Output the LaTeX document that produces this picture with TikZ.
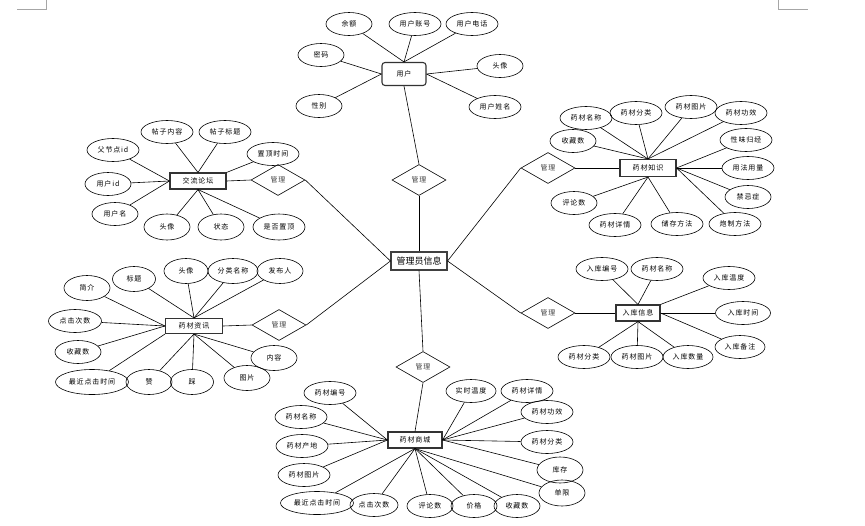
\documentclass[tikz,border=0pt]{standalone}
\usepackage{fontspec}
\newfontfamily\cjk[LetterSpace=12]{Noto Sans CJK SC}
\newfontfamily\cjkmain{Noto Sans CJK SC}
\usetikzlibrary{shapes.geometric}

\begin{document}
\begin{tikzpicture}[
  x=1pt,y=-1pt,
  attr/.style={draw,ellipse,line width=0.6pt,inner sep=0pt,minimum width=52pt,minimum height=23pt,font=\cjk\fontsize{7}{8}\selectfont},
  attrs/.style={attr,minimum width=46pt},
  attrl/.style={attr,minimum width=73pt},
  entity/.style={draw=black!80,line width=1.1pt,inner sep=0pt,minimum width=56pt,minimum height=16pt,font=\cjk\fontsize{7}{8}\selectfont},
  rel/.style={draw,diamond,line width=0.6pt,inner sep=0pt,minimum width=54pt,minimum height=31pt,font=\cjk\fontsize{7}{8}\selectfont,text=black!75},
  conn/.style={line width=0.6pt}
]
\useasboundingbox (0,0) rectangle (865,525);
% page corner marks
\draw[black!35,line width=0.6pt] (17,9) -- (46,9) -- (46,0);
\draw[black!35,line width=0.6pt] (778,0) -- (778,9) -- (808,9);

% centre
\node[draw=black!75,line width=1.1pt,inner sep=0pt,minimum width=56pt,minimum height=18pt,font=\cjkmain\fontsize{9}{10}\selectfont] (gly) at (419,261) {管理员信息};
\node[rel] (gl1) at (419,180) {管理};
\node[rel] (gl2) at (278,180) {管理};
\node[rel] (gl3) at (548,168) {管理};
\node[rel] (gl4) at (279,325) {管理};
\node[rel] (gl5) at (423,367) {管理};
\node[rel] (gl6) at (548,313) {管理};

% 用户
\node[entity,rounded corners=3pt,minimum width=44pt,minimum height=23pt] (yonghu) at (404,74) {用户};
\node[attrs] (yue) at (349,24) {余额};
\node[attr] (yhzh) at (415,24) {用户账号};
\node[attr] (yhdh) at (472,24) {用户电话};
\node[attrs] (mima) at (321,55) {密码};
\node[attrs] (touxiang) at (500,66) {头像};
\node[attrs] (xingbie) at (319,106) {性别};
\node[attr] (yhxm) at (495,107) {用户姓名};
\draw[conn] (yue) -- (yonghu.north);
\draw[conn] (yhzh) -- (yonghu.north);
\draw[conn] (yhdh) -- (yonghu.north);
\draw[conn] (mima) -- (yonghu.west);
\draw[conn] (xingbie) -- (yonghu.west);
\draw[conn] (touxiang) -- (yonghu.east);
\draw[conn] (yhxm) -- (yonghu.east);
\draw[conn] (yonghu.south) -- (gl1.north);
\draw[conn] (gl1.south) -- (gly.north);

% 交流论坛
\node[entity] (jlt) at (198,181) {交流论坛};
\node[attr] (tznr) at (167,132) {帖子内容};
\node[attr] (tzbt) at (225,132) {帖子标题};
\node[attr] (zdsj) at (273,154) {置顶时间};
\node[attr] (fjd) at (113,150) {父节点id};
\node[attrs] (yhid) at (108,184) {用户id};
\node[attrs] (yhm) at (115,214) {用户名};
\node[attrs,minimum height=26pt] (tx1) at (167,227) {头像};
\node[attrs,minimum height=26pt] (zhuangtai) at (221,227) {状态};
\node[attr,minimum height=26pt] (sfzd) at (279,227) {是否置顶};
\draw[conn] (tznr) -- (jlt.north);
\draw[conn] (tzbt) -- (jlt.north);
\draw[conn] (zdsj) -- (jlt.north east);
\draw[conn] (fjd) -- (jlt.west);
\draw[conn] (yhid) -- (jlt.west);
\draw[conn] (yhm) -- (jlt.west);
\draw[conn] (tx1) -- (jlt.south);
\draw[conn] (zhuangtai) -- (jlt.south);
\draw[conn] (sfzd) -- (jlt.south);
\draw[conn] (jlt.east) -- (gl2.west);
\draw[conn] (gl2.east) -- (gly.west);

% 药材知识
\node[entity,minimum height=17pt] (zs) at (648,168) {药材知识};
\node[attr] (ymc1) at (586,118) {药材名称};
\node[attr] (yfl1) at (636,113) {药材分类};
\node[attr] (ytp1) at (691,107) {药材图片};
\node[attr] (ygx1) at (741,113) {药材功效};
\node[attrs] (scs1) at (573,141) {收藏数};
\node[attr] (xwgj) at (746,140) {性味归经};
\node[attr] (yfyl) at (748,168) {用法用量};
\node[attrs] (jjz) at (748,197) {禁忌症};
\node[attrs] (pls1) at (574,203) {评论数};
\node[attr] (yxq1) at (615,225) {药材详情};
\node[attr] (ccff) at (677,224) {储存方法};
\node[attr] (pzff) at (735,224) {炮制方法};
\draw[conn] (ymc1) -- (zs.north);
\draw[conn] (yfl1) -- (zs.north);
\draw[conn] (ytp1) -- (zs.north);
\draw[conn] (ygx1) -- (zs.north);
\draw[conn] (scs1) -- (zs.north);
\draw[conn] (xwgj) -- (zs.east);
\draw[conn] (yfyl) -- (zs.east);
\draw[conn] (jjz) -- (zs.east);
\draw[conn] (pzff) -- (zs.east);
\draw[conn] (pls1) -- (zs.south);
\draw[conn] (yxq1) -- (zs.south);
\draw[conn] (ccff) -- (zs.south);
\draw[conn] (gl3.east) -- (zs.west);
\draw[conn] (gl3.west) -- (gly.east);

% 药材资讯
\node[entity,minimum width=57pt,minimum height=15pt] (zx) at (194,326) {药材资讯};
\node[attrs,minimum height=25pt] (jianjie) at (87,288) {简介};
\node[attrs,minimum width=43pt,minimum height=25pt] (biaoti) at (134,279) {标题};
\node[attrs,minimum width=44pt,minimum height=25pt] (tx2) at (186,271) {头像};
\node[attr,minimum width=50pt,minimum height=25pt] (flmc) at (233,271) {分类名称};
\node[attrs,minimum height=25pt] (fbr) at (280,271) {发布人};
\node[attr,minimum width=53pt] (djcs1) at (75,321) {点击次数};
\node[attrs] (scs2) at (78,352) {收藏数};
\node[attrl,minimum height=25pt] (zjdj1) at (92,382) {最近点击时间};
\node[attrs,minimum height=25pt] (zan) at (149,382) {赞};
\node[attrs,minimum width=43pt,minimum height=25pt] (cai) at (192,382) {踩};
\node[attrs,minimum height=25pt] (tupian) at (247,378) {图片};
\node[attrs,minimum height=25pt] (neirong) at (274,358) {内容};
\draw[conn] (jianjie) -- (zx.west);
\draw[conn] (djcs1) -- (zx.west);
\draw[conn] (scs2) -- (zx.west);
\draw[conn] (biaoti) -- (zx.north);
\draw[conn] (tx2) -- (zx.north);
\draw[conn] (flmc) -- (zx.north);
\draw[conn] (fbr) -- (zx.north);
\draw[conn] (zjdj1) -- (zx.south west);
\draw[conn] (zan) -- (zx.south);
\draw[conn] (cai) -- (zx.south);
\draw[conn] (tupian) -- (zx.south);
\draw[conn] (neirong) -- (zx.south);
\draw[conn] (gl4.west) -- (zx.east);
\draw[conn] (gl4.east) -- (gly.west);

% 入库信息
\node[entity,minimum width=44pt] (rk) at (638,313) {入库信息};
\node[attr] (rkbh) at (602,269) {入库编号};
\node[attr] (ymc2) at (657,269) {药材名称};
\node[attr] (rkwd) at (729,278) {入库温度};
\node[attr,minimum width=55pt] (rksj) at (743,313) {入库时间};
\node[attrs,minimum width=50pt] (rkbz) at (740,347) {入库备注};
\node[attr] (yfl2) at (584,357) {药材分类};
\node[attr] (ytp2) at (637,357) {药材图片};
\node[attrs,minimum width=50pt] (rksl) at (688,357) {入库数量};
\draw[conn] (rkbh) -- (rk.north);
\draw[conn] (ymc2) -- (rk.north);
\draw[conn] (rkwd) -- (rk.north east);
\draw[conn] (rksj) -- (rk.east);
\draw[conn] (rkbz) -- (rk.east);
\draw[conn] (yfl2) -- (rk.south);
\draw[conn] (ytp2) -- (rk.south);
\draw[conn] (rksl) -- (rk.south);
\draw[conn] (gl6.east) -- (rk.west);
\draw[conn] (gl6.west) -- (gly.east);

% 药材商城
\node[entity,minimum width=54pt] (sc) at (415,440) {药材商城};
\node[attr] (ybh) at (330,393) {药材编号};
\node[attr] (ymc3) at (301,417) {药材名称};
\node[attr] (ycd) at (302,446) {药材产地};
\node[attr] (ytp3) at (304,475) {药材图片};
\node[attrl] (zjdj2) at (317,503) {最近点击时间};
\node[attr,minimum width=48pt] (djcs2) at (374,505) {点击次数};
\node[attrs] (pls2) at (430,506) {评论数};
\node[attrs] (jiage) at (474,506) {价格};
\node[attrs] (scs3) at (517,506) {收藏数};
\node[attrs,minimum height=26pt] (danxian) at (562,493) {单限};
\node[attrs,minimum height=26pt] (kucun) at (560,470) {库存};
\node[attr] (yfl3) at (547,442) {药材分类};
\node[attr] (ygx2) at (547,412) {药材功效};
\node[attr] (yxq2) at (527,391) {药材详情};
\node[attrs,minimum width=50pt] (sswd) at (471,391) {实时温度};
\draw[conn] (ybh) -- (sc.west);
\draw[conn] (ymc3) -- (sc.west);
\draw[conn] (ycd) -- (sc.west);
\draw[conn] (ytp3) -- (sc.west);
\draw[conn] (zjdj2) -- (sc.south);
\draw[conn] (djcs2) -- (sc.south);
\draw[conn] (pls2) -- (sc.south);
\draw[conn] (jiage) -- (sc.south);
\draw[conn] (scs3) -- (sc.south);
\draw[conn] (danxian) -- (sc.south);
\draw[conn] (kucun) -- (sc.east);
\draw[conn] (yfl3) -- (sc.east);
\draw[conn] (ygx2) -- (sc.east);
\draw[conn] (yxq2) -- (sc.east);
\draw[conn] (sswd) -- (sc.east);
\draw[conn] (gl5.south) -- (sc.north);
\draw[conn] (gly.south) -- (gl5.north);
\end{tikzpicture}
\end{document}
